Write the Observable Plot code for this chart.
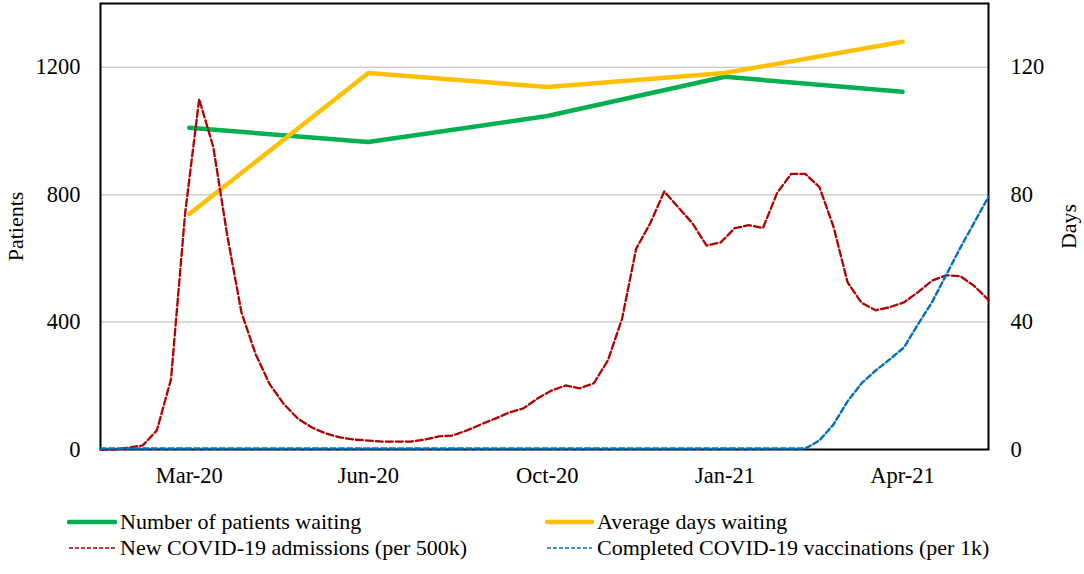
<!DOCTYPE html>
<html><head><meta charset="utf-8">
<script src="https://cdn.jsdelivr.net/npm/d3@7"></script>
<script src="https://cdn.jsdelivr.net/npm/@observablehq/plot@0.6"></script>
<style>
body{margin:0;background:#fff;font-family:"Liberation Serif","Times New Roman",serif;}
#wrap{position:relative;width:1084px;height:574px;overflow:hidden;}
#chart{position:absolute;left:0;top:0;}
.leg{position:absolute;display:flex;align-items:center;height:26px;font-size:22px;color:#000;white-space:nowrap;}
.leg svg{display:block;}
</style></head><body><div id="wrap"><div id="chart"></div></div>
<script>
// Category (month) labels and their positions on the weekly index axis
const monthLabels = ["Mar-20", "Jun-20", "Oct-20", "Jan-21", "Apr-21"];
const monthPos = [6.3, 19.0, 31.7, 44.3, 56.9];

// Monthly series
const patientsWaiting = [1010, 965, 1047, 1170, 1123];      // left axis (Patients)
const avgDaysWaiting = [73.9, 118.2, 113.8, 118.2, 128];     // right axis (Days)

// Weekly series (right-axis units)
const admissions = [0, 0, 0.6, 1.3, 6, 22, 74, 110, 95, 67, 43, 30, 20.5, 14.3, 9.7, 6.9,
  5, 3.8, 3.1, 2.8, 2.5, 2.5, 2.5, 3.1, 4.1, 4.4, 6, 7.9, 9.7, 11.6, 12.9, 16,
  18.5, 20.1, 19.2, 20.8, 28, 41, 63, 71, 81, 76, 71, 64, 65, 69.5, 70.4, 69.5,
  80.5, 86.5, 86.5, 82.4, 70, 52.5, 46, 43.7, 44.7, 46.2, 49.4, 53, 54.7, 54.4, 51.3, 46.9];
const vaccinations = [0, 0, 0, 0, 0, 0, 0, 0, 0, 0, 0, 0, 0, 0, 0, 0,
  0, 0, 0, 0, 0, 0, 0, 0, 0, 0, 0, 0, 0, 0, 0, 0,
  0, 0, 0, 0, 0, 0, 0, 0, 0, 0, 0, 0, 0, 0, 0, 0,
  0, 0, 0, 2.5, 7.5, 14.8, 20.5, 24.5, 28, 31.7, 39, 46, 54.5, 63, 71, 79];

const leftTicks = [0, 400, 800, 1200];
const gridTicks = [400, 800, 1200];
const seriesNames = ["Number of patients waiting", "Average days waiting",
  "New COVID-19 admissions (per 500k)", "Completed COVID-19 vaccinations (per 1k)"];
const colors = ["#00B050", "#FFC000", "#B00000", "#0070C0"];

const ratio = 10; // right axis value * ratio = left axis value
const labelMap = new Map(monthPos.map((p, i) => [p, monthLabels[i]]));
const monthly = monthPos.map((p, i) => ({x: p, pw: patientsWaiting[i], ad: avgDaysWaiting[i] * ratio}));
const weekly = admissions.map((a, i) => ({x: i, adm: a * ratio, vac: vaccinations[i] * ratio}));

const chart = Plot.plot({
  width: 1084, height: 495,
  marginLeft: 100, marginRight: 96, marginTop: 3, marginBottom: 46,
  style: {fontFamily: "'Liberation Serif','Times New Roman',serif", fontSize: "22.5px", color: "#000", background: "white", overflow: "visible"},
  x: {domain: [0, 63]},
  y: {domain: [0, 1400]},
  marks: [
    Plot.gridY(gridTicks, {stroke: "#cfcfcf", strokeOpacity: 1, strokeWidth: 1.5}),
    Plot.axisY(leftTicks, {anchor: "left", tickSize: 0, tickPadding: 20, tickFormat: d => String(d), label: null}),
    Plot.axisY(leftTicks, {anchor: "right", tickSize: 0, tickPadding: 22, tickFormat: d => String(d / ratio), label: null}),
    Plot.axisX(monthPos, {anchor: "bottom", tickSize: 0, tickPadding: 18, tickFormat: d => labelMap.get(d), label: null}),
    Plot.frame({stroke: "#000", strokeWidth: 2}),
    Plot.line(monthly, {x: "x", y: "pw", stroke: colors[0], strokeWidth: 4.5, strokeLinecap: "round", strokeLinejoin: "round"}),
    Plot.line(monthly, {x: "x", y: "ad", stroke: colors[1], strokeWidth: 4.5, strokeLinecap: "round", strokeLinejoin: "round"}),
    Plot.line(weekly, {x: "x", y: "adm", stroke: colors[2], strokeWidth: 2.3, strokeDasharray: "7,3"}),
    Plot.line(weekly, {x: "x", y: "vac", stroke: colors[3], strokeWidth: 2.4, strokeDasharray: "5.5,3", dy: -1}),
    Plot.text(["Patients"], {text: d => d, frameAnchor: "left", textAnchor: "middle", dx: -85, rotate: -90, fontSize: 22}),
    Plot.text(["Days"], {text: d => d, frameAnchor: "right", textAnchor: "middle", dx: 80, rotate: -90, fontSize: 22})
  ]
});
document.getElementById("chart").appendChild(chart);

// Legend
const wrap = document.getElementById("wrap");
const legendLayout = [
  {i: 0, left: 67, top: 509, w: 50, dash: null, sw: 4.5},
  {i: 1, left: 545, top: 509, w: 49, dash: null, sw: 4.5},
  {i: 2, left: 67, top: 535, w: 50, dash: "4,2", sw: 1.5},
  {i: 3, left: 545, top: 535, w: 49, dash: "4,2", sw: 1.5}
];
legendLayout.forEach(L => {
  const d = document.createElement("div");
  d.className = "leg";
  d.style.left = L.left + "px";
  d.style.top = L.top + "px";
  const ns = "http://www.w3.org/2000/svg";
  const s = document.createElementNS(ns, "svg");
  s.setAttribute("width", L.w); s.setAttribute("height", 10);
  const ln = document.createElementNS(ns, "line");
  ln.setAttribute("x1", 2); ln.setAttribute("x2", L.w - 2);
  ln.setAttribute("y1", 5); ln.setAttribute("y2", 5);
  ln.setAttribute("stroke", colors[L.i]);
  ln.setAttribute("stroke-width", L.sw);
  if (L.dash) ln.setAttribute("stroke-dasharray", L.dash); else ln.setAttribute("stroke-linecap", "round");
  s.appendChild(ln);
  d.appendChild(s);
  const t = document.createElement("span");
  t.textContent = seriesNames[L.i];
  t.style.marginLeft = "3px";
  d.appendChild(t);
  wrap.appendChild(d);
});
</script>
</body></html>
